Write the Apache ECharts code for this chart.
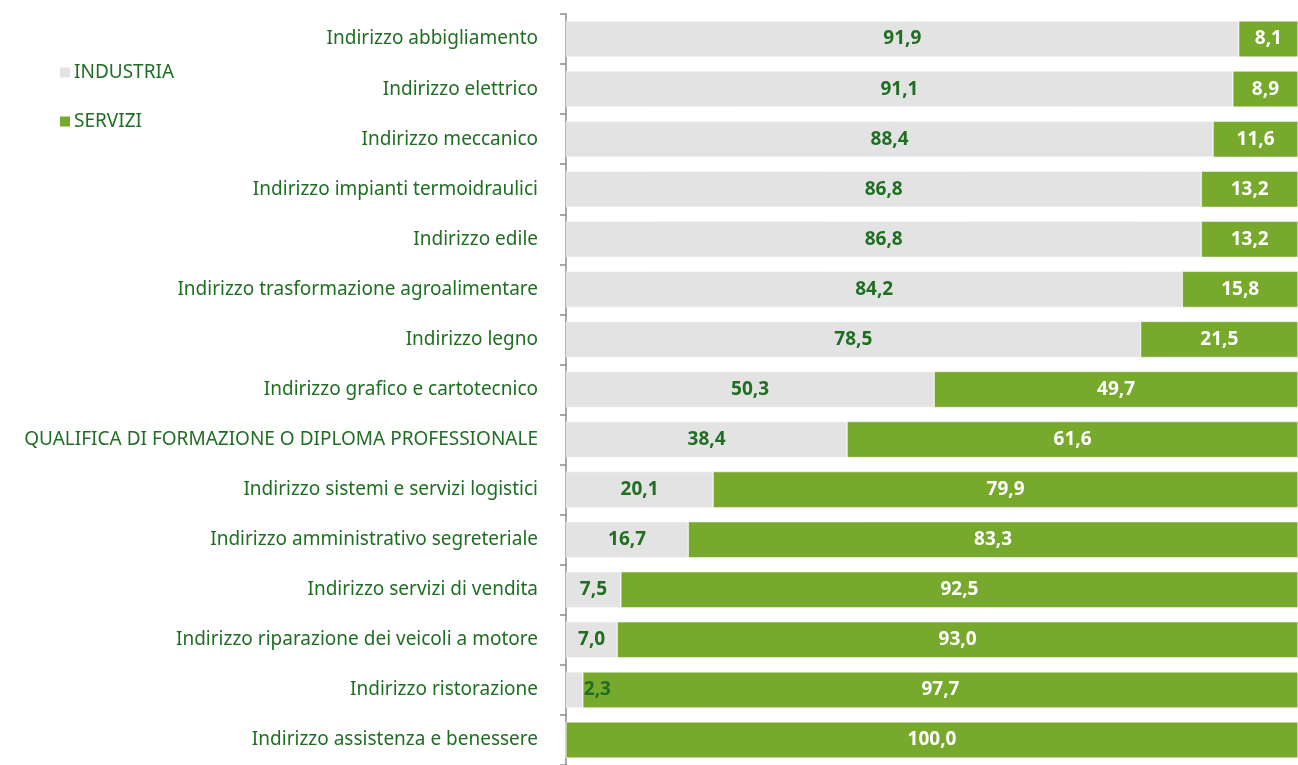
<!DOCTYPE html>
<html>
<head>
<meta charset="utf-8">
<script src="https://cdn.jsdelivr.net/npm/echarts@6/dist/echarts.min.js"></script>
<style>
  html, body { margin: 0; padding: 0; background: #fff; }
  #chart { width: 1298px; height: 765px; }
</style>
</head>
<body>
<div id="chart"></div>
<script>
// categorie (dall'alto verso il basso)
var categorie = [
  'Indirizzo abbigliamento',
  'Indirizzo elettrico',
  'Indirizzo meccanico',
  'Indirizzo impianti termoidraulici',
  'Indirizzo edile',
  'Indirizzo trasformazione agroalimentare',
  'Indirizzo legno',
  'Indirizzo grafico e cartotecnico',
  'QUALIFICA DI FORMAZIONE O DIPLOMA PROFESSIONALE',
  'Indirizzo sistemi e servizi logistici',
  'Indirizzo amministrativo segreteriale',
  'Indirizzo servizi di vendita',
  'Indirizzo riparazione dei veicoli a motore',
  'Indirizzo ristorazione',
  'Indirizzo assistenza e benessere'
];
var industria = [91.9, 91.1, 88.4, 86.8, 86.8, 84.2, 78.5, 50.3, 38.4, 20.1, 16.7, 7.5, 7.0, 2.3, 0];
var servizi = [8.1, 8.9, 11.6, 13.2, 13.2, 15.8, 21.5, 49.7, 61.6, 79.9, 83.3, 92.5, 93.0, 97.7, 100.0];

var VERDE_SCURO = '#1f6e22';
var FONT = '"Noto Sans", "DejaVu Sans", sans-serif';

//formato italiano con la virgola
function fmt(p) {
  if (!p.value) return '';
  return p.value.toFixed(1).replace('.', ',');
}

//le barre troppo corte hanno l'etichetta a destra
var datiIndustria = industria.map(function (v) {
  if (v > 0 && v < 5) {
    return { value: v, label: { position: 'right', distance: 1 } };
  }
  return v;
});

var chart = echarts.init(document.getElementById('chart'));
chart.setOption({
  animation: false,
  textStyle: { fontFamily: FONT },
  legend: {
    orient: 'vertical',
    left: 53,
    top: 58,
    itemWidth: 12,
    itemHeight: 12,
    itemGap: 30,
    icon: 'rect',
    textStyle: { color: VERDE_SCURO, fontSize: 19, fontFamily: FONT, padding: [0, 0, 0, -2] },
    data: ['INDUSTRIA', 'SERVIZI']
  },
  grid: { left: 566, right: -4, top: 14, bottom: -4, containLabel: false },
  xAxis: {
    type: 'value',
    min: 0,
    max: 100,
    show: false
  },
  yAxis: {
    type: 'category',
    inverse: true,
    data: categorie,
    axisLine: { show: true, lineStyle: { color: '#8c8c8c', width: 1.5 } },
    axisTick: { show: true, length: 6, lineStyle: { color: '#8c8c8c', width: 1.5 } },
    axisLabel: { color: VERDE_SCURO, fontSize: 19, margin: 28, fontFamily: FONT, padding: [3, 0, 0, 0] }
  },
  series: [
    {
      name: 'INDUSTRIA',
      type: 'bar',
      stack: 'tot',
      barCategoryGap: '28%',
      data: datiIndustria,
      itemStyle: { color: '#e3e3e3', borderColor: '#fff', borderWidth: 0.5 },
      label: {
        show: true,
        position: 'inside',
        color: VERDE_SCURO,
        fontWeight: 'bold',
        fontSize: 19,
        fontFamily: FONT,
        formatter: fmt
      }
    },
    {
      name: 'SERVIZI',
      type: 'bar',
      stack: 'tot',
      data: servizi,
      itemStyle: { color: '#77a92d', borderColor: '#fff', borderWidth: 0.5 },
      label: {
        show: true,
        position: 'inside',
        color: '#ffffff',
        fontWeight: 'bold',
        fontSize: 19,
        fontFamily: FONT,
        formatter: fmt
      }
    }
  ]
});
</script>
</body>
</html>
